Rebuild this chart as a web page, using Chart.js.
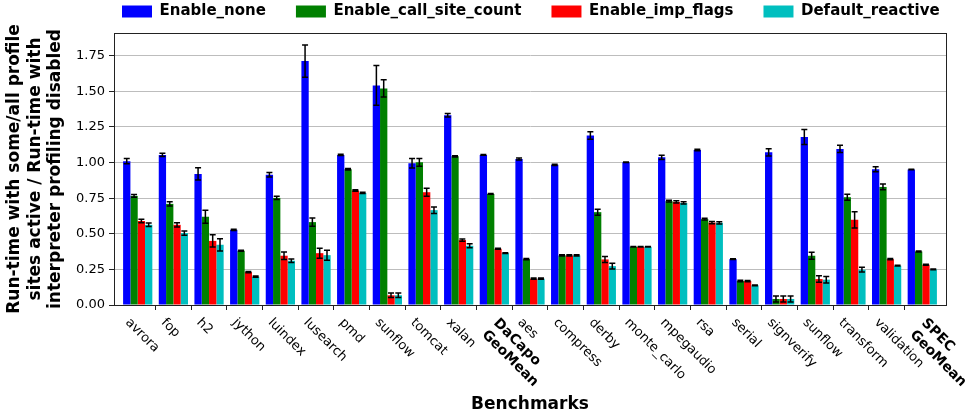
<!DOCTYPE html>
<html>
<head>
<meta charset="utf-8">
<script src="https://cdn.jsdelivr.net/npm/chart.js@4.4.1/dist/chart.umd.min.js"></script>
<style>
  body { margin: 0; background: #fff; }
  #wrap { width: 967px; height: 417px; }
</style>
</head>
<body>
<div id="wrap"><canvas id="myChart" width="967" height="417"></canvas></div>
<script>
//! Data

const benchmarks = ['avrora', 'fop', 'h2', 'jython', 'luindex', 'lusearch', 'pmd', 'sunflow', 'tomcat', 'xalan',
  'DaCapo\nGeoMean', 'aes', 'compress', 'derby', 'monte_carlo', 'mpegaudio', 'rsa', 'serial', 'signverify',
  'sunflow', 'transform', 'validation', 'SPEC\nGeoMean'];

const enableNone = [1.01, 1.054, 0.92, 0.528, 0.914, 1.713, 1.054, 1.542, 0.995, 1.332, 1.054, 1.026, 0.984, 1.19, 1.002, 1.037, 1.089, 0.322, 1.072, 1.18, 1.096, 0.953, 0.951];
const enableCallSiteCount = [0.766, 0.71, 0.62, 0.381, 0.752, 0.582, 0.953, 1.521, 1.002, 1.044, 0.78, 0.322, 0.348, 0.652, 0.409, 0.729, 0.603, 0.168, 0.042, 0.346, 0.757, 0.829, 0.376];
const enableImpFlags = [0.59, 0.563, 0.45, 0.231, 0.346, 0.364, 0.804, 0.068, 0.792, 0.456, 0.395, 0.185, 0.348, 0.32, 0.409, 0.724, 0.579, 0.168, 0.042, 0.182, 0.598, 0.322, 0.283];
const defaultReactive = [0.563, 0.505, 0.423, 0.199, 0.311, 0.35, 0.787, 0.068, 0.666, 0.416, 0.364, 0.185, 0.348, 0.273, 0.409, 0.717, 0.577, 0.138, 0.042, 0.178, 0.248, 0.276, 0.25];

// half-width of the error bars
const errNone = [0.019, 0.012, 0.043, 0.004, 0.016, 0.113, 0.005, 0.14, 0.033, 0.012, 0.003, 0.007, 0.004, 0.026, 0.002, 0.015, 0.005, 0.003, 0.026, 0.053, 0.025, 0.017, 0.002];
const errCallSite = [0.01, 0.015, 0.046, 0.004, 0.012, 0.029, 0.005, 0.061, 0.027, 0.004, 0.003, 0.004, 0.004, 0.021, 0.002, 0.006, 0.006, 0.005, 0.021, 0.025, 0.021, 0.02, 0.003];
const errImpFlags = [0.012, 0.015, 0.043, 0.004, 0.026, 0.035, 0.005, 0.016, 0.028, 0.008, 0.003, 0.005, 0.004, 0.021, 0.002, 0.008, 0.008, 0.004, 0.021, 0.023, 0.057, 0.004, 0.003];
const errDefault = [0.012, 0.015, 0.043, 0.004, 0.012, 0.035, 0.004, 0.016, 0.023, 0.014, 0.003, 0.005, 0.004, 0.021, 0.002, 0.008, 0.008, 0.003, 0.021, 0.023, 0.017, 0.003, 0.002];

const yTicks = [0, 0.25, 0.5, 0.75, 1.0, 1.25, 1.5, 1.75];

//! --------------------------------------------------------------

Chart.defaults.font.family = 'DejaVu Sans';
Chart.defaults.color = '#000';

let toPoints = (values) => values.map((v, i) => ({ x: i, y: v }));

const data = {
  datasets: [
    { label: 'Enable_none', data: toPoints(enableNone), err: errNone, backgroundColor: '#0000ff' },
    { label: 'Enable_call_site_count', data: toPoints(enableCallSiteCount), err: errCallSite, backgroundColor: '#008000' },
    { label: 'Enable_imp_flags', data: toPoints(enableImpFlags), err: errImpFlags, backgroundColor: '#ff0000' },
    { label: 'Default_reactive', data: toPoints(defaultReactive), err: errDefault, backgroundColor: '#00bfbf' },
  ],
};

//! Error bars, frame and rotated benchmark names.

const extras = {
  id: 'extras',
  afterLayout(chart) {
    // legend sits over the plot area, not the whole canvas
    const lg = chart.legend;
    const pad = lg.options.labels.padding;
    lg.left = 122 - pad;
    lg.right = lg.left + 1200;
    lg.top = 4 - pad;
  },
  afterDatasetsDraw(chart) {
    const ctx = chart.ctx;
    const y = chart.scales.y;
    ctx.save();
    ctx.strokeStyle = '#000';
    ctx.lineWidth = 1.5;
    chart.data.datasets.forEach((ds, d) => {
      chart.getDatasetMeta(d).data.forEach((bar, i) => {
        const v = ds.data[i].y;
        const e = ds.err[i];
        const y1 = y.getPixelForValue(v - e);
        const y2 = y.getPixelForValue(v + e);
        ctx.beginPath();
        ctx.moveTo(bar.x, y1);
        ctx.lineTo(bar.x, y2);
        ctx.moveTo(bar.x - 3, y1);
        ctx.lineTo(bar.x + 3, y1);
        ctx.moveTo(bar.x - 3, y2);
        ctx.lineTo(bar.x + 3, y2);
        ctx.stroke();
      });
    });
    const a = chart.chartArea;
    ctx.strokeStyle = '#222';
    ctx.lineWidth = 1;
    ctx.strokeRect(a.left + 0.5, a.top + 0.5, a.right - a.left, a.bottom - a.top);
    ctx.restore();
  },
  afterDraw(chart) {
    const ctx = chart.ctx;
    const x = chart.scales.x;
    ctx.save();
    ctx.fillStyle = '#000';
    ctx.textAlign = 'left';
    ctx.textBaseline = 'top';
    benchmarks.forEach((name, i) => {
      const lines = name.split('\n');
      const n = lines.length;
      ctx.font = n > 1 ? 'bold 14px "DejaVu Sans"' : '13px "DejaVu Sans"';
      const lh = 16.5;
      const cx = x.getPixelForValue(i);
      ctx.save();
      ctx.translate(cx - 5.7 + (n - 1) * 12, 316);
      ctx.rotate(Math.PI / 4);
      lines.forEach((t, k) => ctx.fillText(t, 0, k * lh));
      ctx.restore();
    });
    ctx.restore();
  },
};

const options = {
  responsive: false,
  animation: false,
  devicePixelRatio: 1,
  layout: { padding: { left: 0, right: 21, top: 0, bottom: 0 } },
  datasets: { bar: { categoryPercentage: 0.82, barPercentage: 1.0, borderWidth: 0 } },
  plugins: {
    tooltip: { enabled: false },
    legend: {
      position: 'top',
      align: 'start',
      maxHeight: 33,
      labels: {
        boxWidth: 30,
        boxHeight: 12,
        padding: 30,
        font: { size: 15, weight: 'bold' },
      },
    },
  },
  scales: {
    x: {
      type: 'linear',
      offset: false,
      min: -0.665,
      max: 22.665,
      afterBuildTicks: (scale) => {
        scale.ticks = benchmarks.slice(1).map((b, i) => ({ value: i + 0.5 }));
      },
      afterFit: (scale) => { scale.height = 112; },
      ticks: { display: false },
      grid: { drawOnChartArea: false, drawTicks: true, tickLength: 5, tickColor: '#222', offset: false },
      border: { display: true, color: '#222', width: 1 },
      title: {
        display: true,
        text: 'Benchmarks',
        font: { size: 17, weight: 'bold' },
        padding: { top: 0, bottom: 2 },
      },
    },
    y: {
      min: 0,
      max: 1.91,
      afterBuildTicks: (scale) => {
        scale.ticks = yTicks.map((v) => ({ value: v }));
      },
      afterFit: (scale) => { scale.width = 114; },
      ticks: {
        font: { size: 13 },
        padding: 4,
        callback: (v) => v.toFixed(2),
      },
      grid: { color: '#bdbdbd', lineWidth: 1, tickLength: 5, tickColor: '#222' },
      border: { display: true, color: '#222', width: 1 },
      title: {
        display: true,
        text: ['Run-time with some/all profile', 'sites active / Run-time with', 'interpreter profiling disabled'],
        font: { size: 17, weight: 'bold', lineHeight: 1.22 },
        padding: { top: 4, bottom: 0 },
      },
    },
  },
};

const config = {
  type: 'bar',
  data,
  options,
  plugins: [extras],
};

const myChart = new Chart(document.getElementById('myChart'), config);
</script>
</body>
</html>
